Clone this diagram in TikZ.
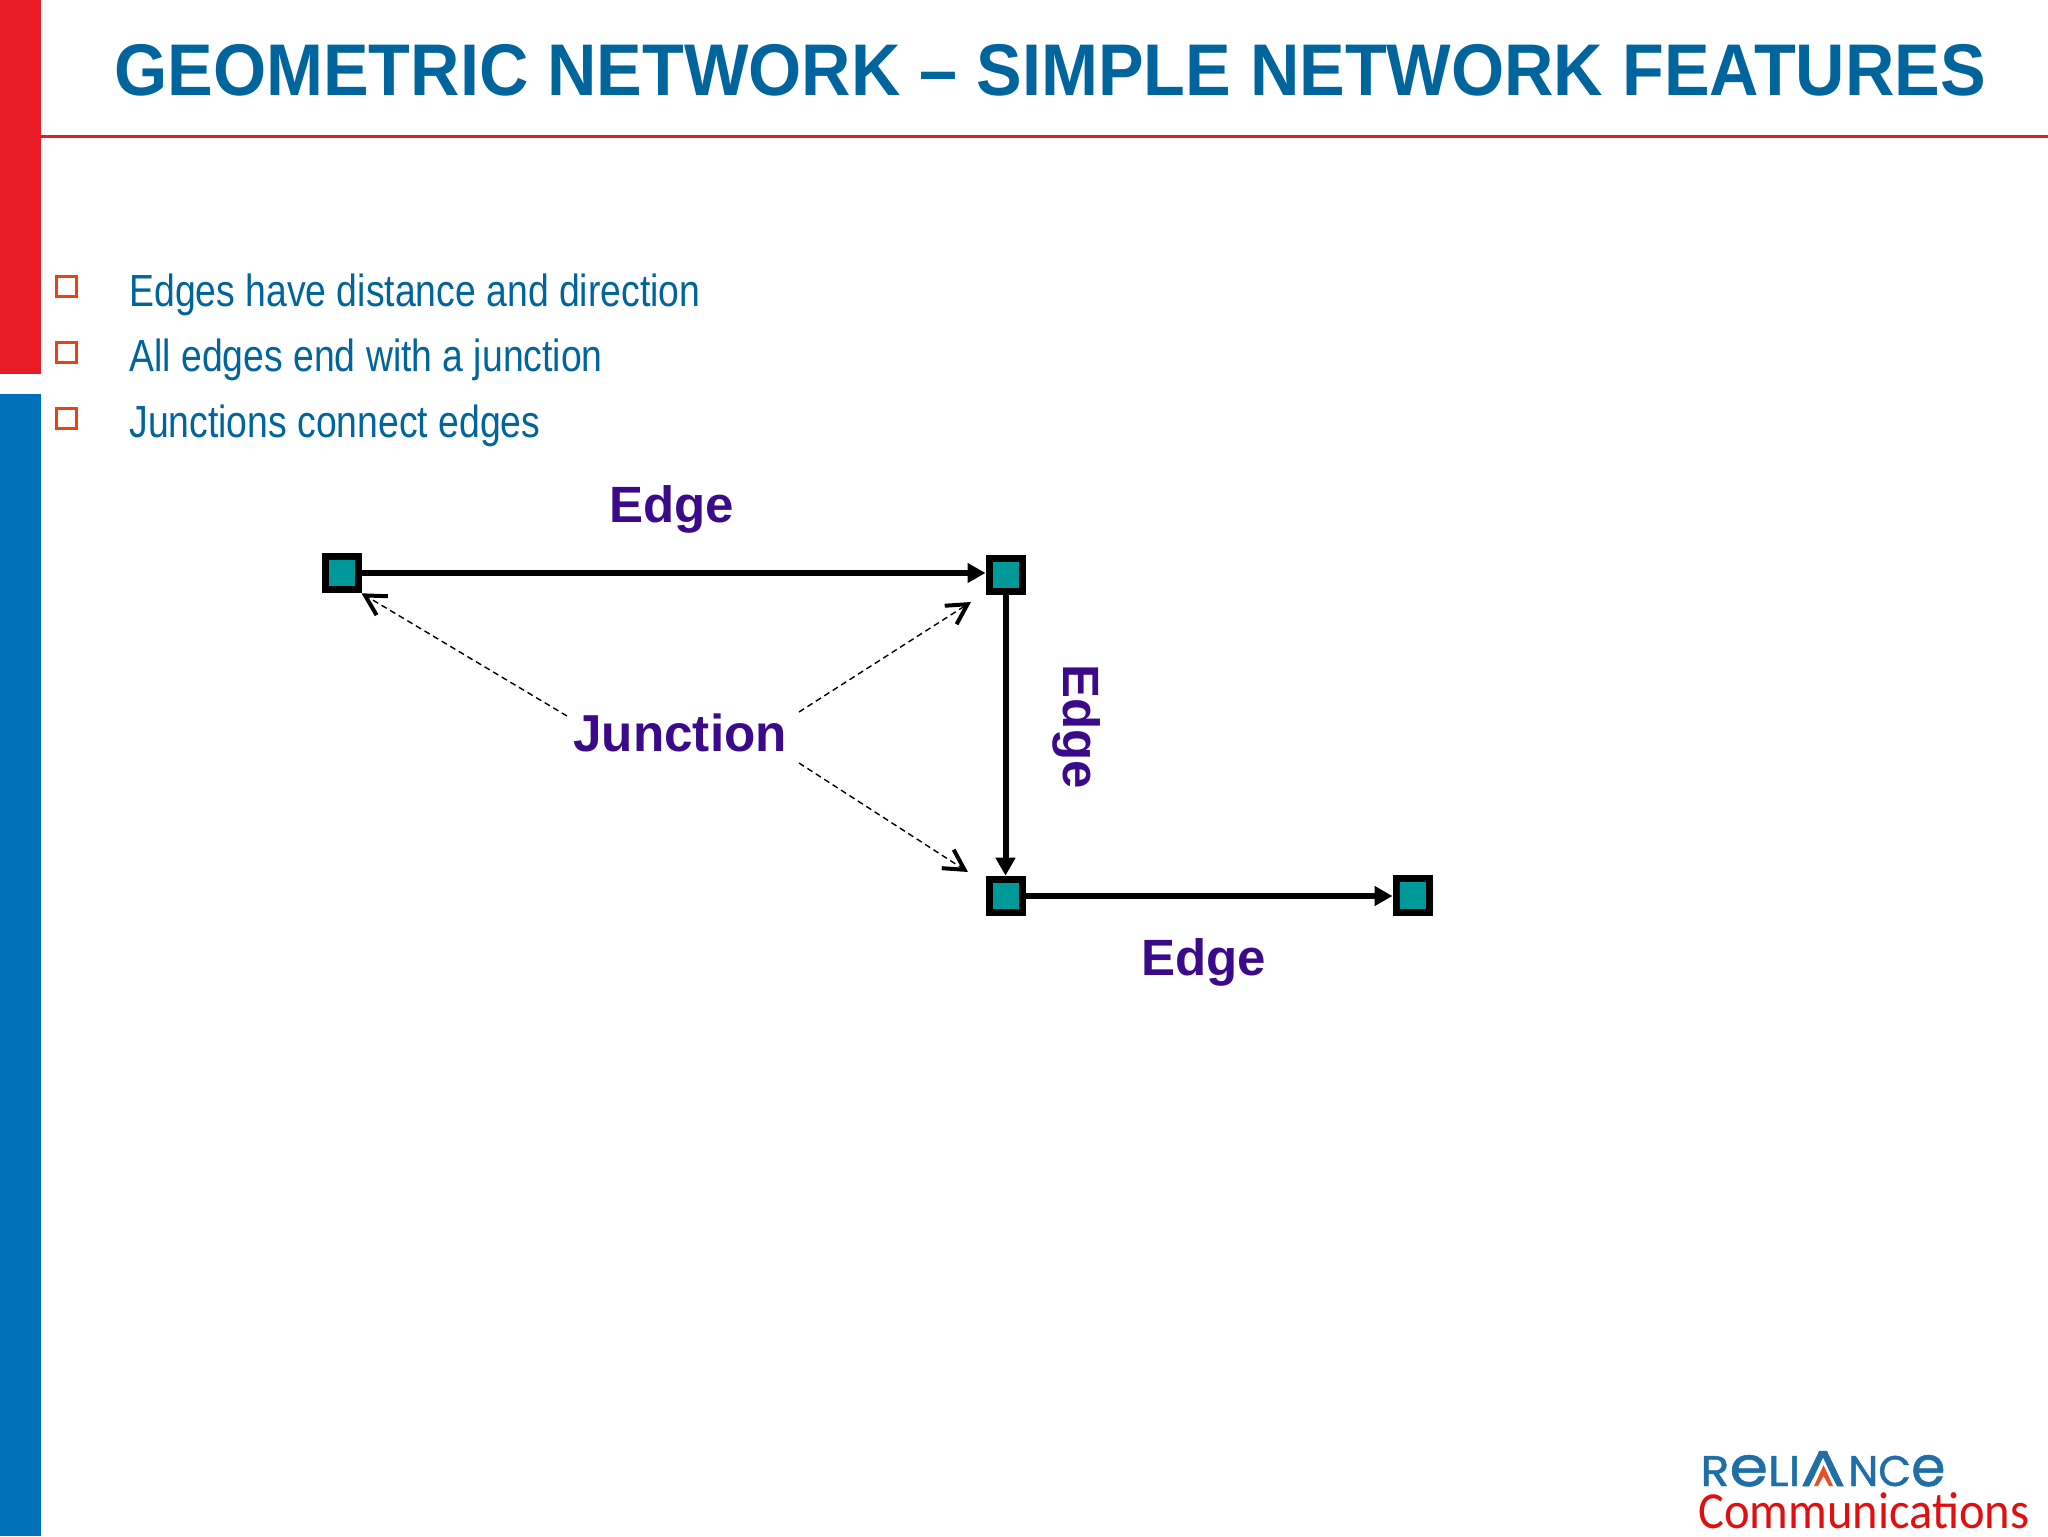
\documentclass[tikz,border=0pt]{standalone}
\usepackage{fontspec}
\usepackage{graphicx}
\setmainfont{Liberation Sans}
\newfontfamily\bodyfont[FakeStretch=0.83]{Liberation Sans}
\newfontfamily\titlefont[FakeStretch=0.934]{Liberation Sans}
\newfontfamily\labelfont[FakeStretch=0.985]{Liberation Sans}
\newfontfamily\logofont[FakeBold=1.0]{Poppins}
\newfontfamily\commfont[FakeStretch=0.933]{Carlito}
\usetikzlibrary{arrows.meta}
\definecolor{barred}{HTML}{E71C24}
\definecolor{barblue}{HTML}{0070BA}
\definecolor{titleblue}{HTML}{00659C}
\definecolor{bulletorange}{HTML}{F04010}
\definecolor{labelpurple}{HTML}{3B0A8A}
\definecolor{teal2}{HTML}{009999}
\definecolor{logoblue}{HTML}{1F6EA8}
\definecolor{logored}{HTML}{E01010}
\definecolor{logochevron}{HTML}{E8502A}
\tikzset{
  x=0.5pt,y=-0.5pt,
  junctionbox/.style={draw=black,fill=teal2,line width=3.5pt,minimum width=16.5pt,minimum height=16.8pt,inner sep=0pt},
  edgeline/.style={draw=black,line width=3pt,-{Triangle[length=9pt,width=9.5pt]}},
  pointer/.style={draw=black,line width=0.7pt,dash pattern=on 3pt off 2pt,-{Straight Barb[length=10pt,width=11pt,line width=2pt]}},
  bulletbox/.style={draw=bulletorange,line width=1.5pt,minimum width=10pt,minimum height=10pt,inner sep=0pt,fill=white},
  bodytext/.style={anchor=base west,inner sep=0pt,text=titleblue,font=\bodyfont\fontsize{22.5}{26}\selectfont},
  edgelabel/.style={anchor=base west,inner sep=0pt,text=labelpurple,font=\bfseries\fontsize{25.5}{28}\selectfont},
  logotext/.style={anchor=base west,inner sep=0pt,text=logoblue},
}
\begin{document}
\begin{tikzpicture}
\useasboundingbox (0,0) rectangle (2048,1536);
\fill[white] (0,0) rectangle (2048,1536);
\fill[barred] (0,0) rectangle (41,374);
\fill[barblue] (0,394) rectangle (41,1536);
\draw[barred,line width=1.5pt] (41,136) -- (2048,136);
\node[anchor=base west,inner sep=0pt,text=titleblue,font=\titlefont\bfseries\fontsize{36.6}{40}\selectfont] (title) at (114,96) {GEOMETRIC NETWORK – SIMPLE NETWORK FEATURES};
\node[bulletbox] (b1) at (66.5,286.5) {};
\node[bulletbox] (b2) at (66.5,352.5) {};
\node[bulletbox] (b3) at (66.5,418.5) {};
\node[bodytext] (t1) at (129,306) {Edges have distance and direction};
\node[bodytext] (t2) at (129,371) {All edges end with a junction};
\node[bodytext] (t3) at (129,437) {Junctions connect edges};
\node[junctionbox] (A) at (341.5,573) {};
\node[junctionbox] (B) at (1005.5,575) {};
\node[junctionbox] (C) at (1005.5,896) {};
\node[junctionbox] (D) at (1412.5,895.5) {};
\draw[edgeline] (A.east) -- (A.east -| B.west);
\draw[edgeline] (B.south) -- (C.north);
\draw[edgeline] (C.east) -- (C.east -| D.west);
\node[edgelabel] (e1) at (609,522) {Edge};
\node[edgelabel,rotate=-90] (e2) at (1063,664) {Edge};
\node[edgelabel] (e3) at (1141,975) {Edge};
\node[edgelabel,font=\labelfont\bfseries\fontsize{26}{28}\selectfont] (J) at (573,751) {Junction};
\coordinate (js1) at (567,716);
\coordinate (js2) at (799,712);
\coordinate (js3) at (799,763);
\coordinate (jt2) at (971,602);
\coordinate (jt3) at (968,872);
\draw[pointer] (js1) -- (A.south east);
\draw[pointer] (js2) -- (jt2);
\draw[pointer] (js3) -- (jt3);
\node[logotext] (logo1) at (1700,1486) {\resizebox{50pt}{15.5pt}{\logofont R\scalebox{1.3}{e}LI}};
\node[logotext,anchor=base] (logo2) at (1823,1486) {\resizebox{22.5pt}{17.5pt}{\logofont A}};
\node[logotext] (logo3) at (1848,1486) {\resizebox{48.5pt}{15.5pt}{\logofont NC\scalebox{1.3}{e}}};
\fill[white] (1823,1460) -- (1837,1486.5) -- (1809,1486.5) -- cycle;
\fill[logochevron] (1823.5,1465) -- (1833,1486) -- (1829,1486) -- (1823.5,1476) -- (1818,1486) -- (1814,1486) -- cycle;
\node[anchor=base west,inner sep=0pt,text=logored,font=\commfont\fontsize{26}{28}\selectfont] (comm) at (1698,1528) {Communications};
\end{tikzpicture}
\end{document}
